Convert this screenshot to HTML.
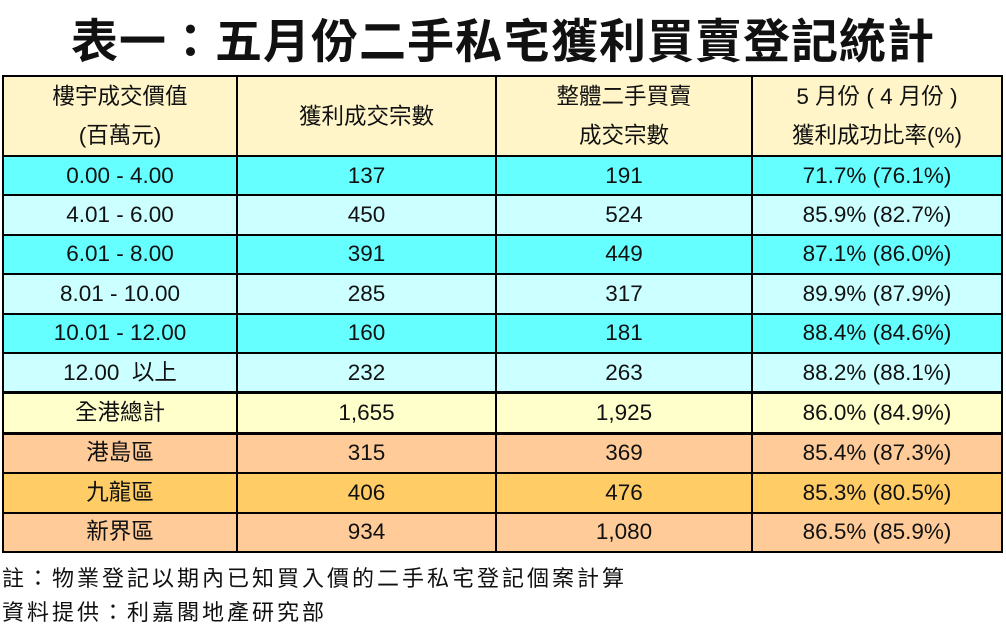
<!DOCTYPE html>
<html><head><meta charset="utf-8"><style>
body{margin:0;width:1006px;height:631px;background:#fff;position:relative;overflow:hidden;font-family:"Liberation Sans","Noto Sans CJK TC",sans-serif;color:#111}
.t{position:absolute;left:0;width:1006px;top:6px;text-align:center;font-size:47px;font-weight:bold;letter-spacing:1px;font-family:"Noto Sans CJK TC","WenQuanYi Zen Hei",sans-serif;line-height:64px}
table{position:absolute;left:2px;top:75px;border-collapse:collapse;table-layout:fixed}
td{border:2px solid #000;text-align:center;font-size:22.5px;padding:0;height:37.4px;line-height:24px}
.h td{background:#FFF5C8;height:77px;line-height:39px}
.c{background:#66FFFF}.l{background:#CCFFFF}.y{background:#FFFFCC}.p{background:#FFCC99}.o{background:#FFCC66}
.tot td{border-top:3px solid #000;border-bottom:3px solid #000}
.n{position:absolute;left:2px;font-size:22px;letter-spacing:3px}
</style></head><body>
<div class="t">表一：五月份二手私宅獲利買賣登記統計</div>
<table>
<colgroup><col style="width:234px"><col style="width:259px"><col style="width:256px"><col style="width:250px"></colgroup>
<tr class="h"><td>樓宇成交價值<br>(百萬元)</td><td>獲利成交宗數</td><td>整體二手買賣<br>成交宗數</td><td>5 月份 ( 4 月份 )<br>獲利成功比率(%)</td></tr>
<tr class="c"><td>0.00 - 4.00</td><td>137</td><td>191</td><td>71.7% (76.1%)</td></tr>
<tr class="l"><td>4.01 - 6.00</td><td>450</td><td>524</td><td>85.9% (82.7%)</td></tr>
<tr class="c"><td>6.01 - 8.00</td><td>391</td><td>449</td><td>87.1% (86.0%)</td></tr>
<tr class="l"><td>8.01 - 10.00</td><td>285</td><td>317</td><td>89.9% (87.9%)</td></tr>
<tr class="c"><td>10.01 - 12.00</td><td>160</td><td>181</td><td>88.4% (84.6%)</td></tr>
<tr class="l"><td>12.00 &nbsp;以上</td><td>232</td><td>263</td><td>88.2% (88.1%)</td></tr>
<tr class="y tot"><td>全港總計</td><td>1,655</td><td>1,925</td><td>86.0% (84.9%)</td></tr>
<tr class="p"><td>港島區</td><td>315</td><td>369</td><td>85.4% (87.3%)</td></tr>
<tr class="o"><td>九龍區</td><td>406</td><td>476</td><td>85.3% (80.5%)</td></tr>
<tr class="p"><td>新界區</td><td>934</td><td>1,080</td><td>86.5% (85.9%)</td></tr>
</table>
<div class="n" style="top:561px">註：物業登記以期內已知買入價的二手私宅登記個案計算</div>
<div class="n" style="top:595px">資料提供：利嘉閣地產研究部</div>
</body></html>
